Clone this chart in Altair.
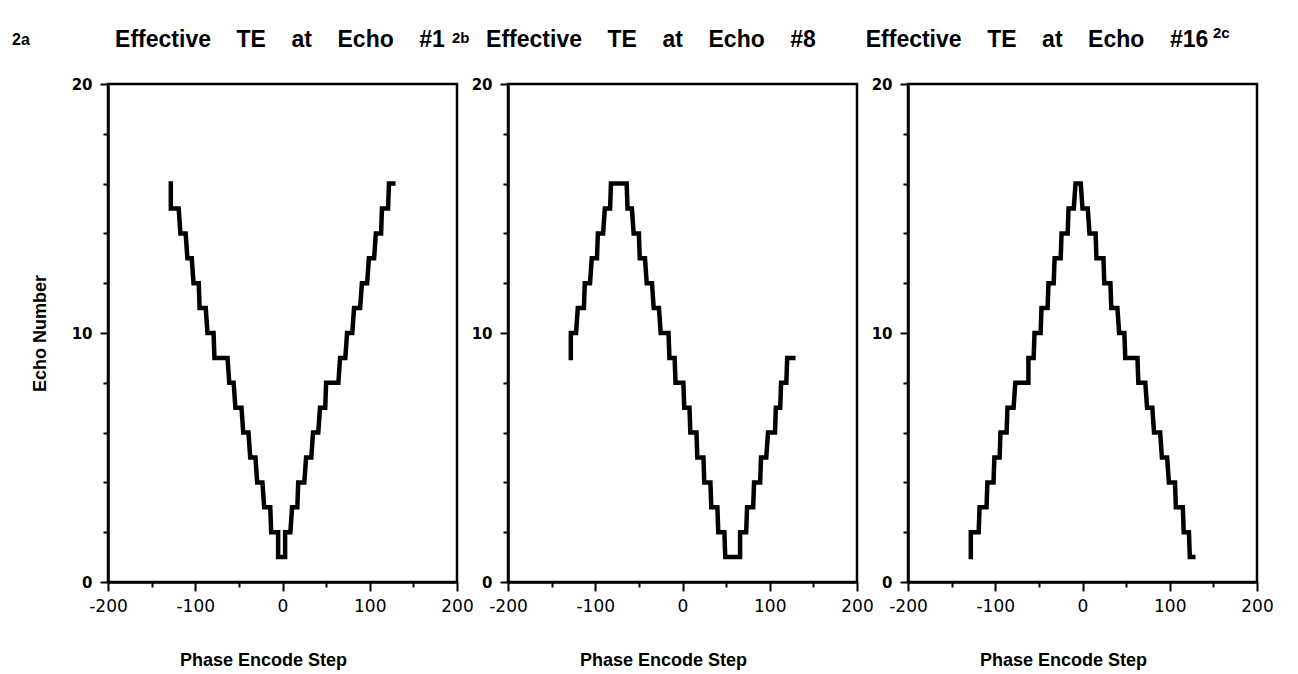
import altair as alt
import pandas as pd

FONT = "Liberation Sans"
NUM_FONT = "DejaVu Sans"

# Panel a: Effective TE at Echo #1  (echo level, start / end of each plateau)
a_echo  = [16, 15, 14, 13, 12, 11, 10, 9, 8, 7, 6, 5, 4, 3, 2, 1,
           2, 3, 4, 5, 6, 7, 8, 9, 10, 11, 12, 13, 14, 15, 16]
a_start = [-128, -128, -117, -109, -102, -95, -86, -78, -61, -54, -45, -37, -29, -21, -13, -5,
           3, 11, 18, 27, 35, 43, 50, 66, 74, 82, 91, 99, 107, 114, 122]
a_end   = [-128, -119, -111, -104, -96, -88, -79, -63, -56, -47, -39, -31, -23, -14, -5, 3,
           9, 17, 25, 33, 41, 49, 64, 72, 80, 89, 97, 105, 113, 121, 127]

# Panel b: Effective TE at Echo #8
b_echo  = [9, 10, 11, 12, 13, 14, 15, 16,
           15, 14, 13, 12, 11, 10, 9, 8, 7, 6, 5, 4, 3, 2, 1,
           2, 3, 4, 5, 6, 7, 8, 9]
b_start = [-128, -128, -120, -112, -104, -97, -89, -82,
           -63, -56, -49, -41, -33, -25, -15, -8, 2, 9, 17, 25, 33, 41, 49,
           66, 74, 82, 90, 98, 107, 113, 120]
b_end   = [-128, -122, -113, -106, -98, -91, -83, -64,
           -58, -50, -43, -35, -27, -16, -9, 1, 8, 16, 24, 32, 40, 48, 66,
           73, 81, 89, 96, 106, 112, 119, 127]

# Panel c: Effective TE at Echo #16
c_echo  = [1, 2, 3, 4, 5, 6, 7, 8, 9, 10, 11, 12, 13, 14, 15, 16,
           15, 14, 13, 12, 11, 10, 9, 8, 7, 6, 5, 4, 3, 2, 1]
c_start = [-128, -128, -118, -109, -101, -94, -86, -77, -62, -55, -47, -39, -32, -24, -16, -8,
           0, 8, 16, 25, 33, 42, 49, 64, 74, 82, 91, 99, 107, 116, 123]
c_end   = [-128, -119, -110, -102, -95, -87, -79, -62, -56, -48, -40, -33, -25, -17, -10, -2,
           6, 15, 24, 32, 40, 48, 63, 72, 80, 89, 97, 106, 115, 122, 127]

G = "\u00a0\u00a0\u00a0\u00a0"
titles = ["Effective" + G + "TE" + G + "at" + G + "Echo" + G + "#1",
          "Effective" + G + "TE" + G + "at" + G + "Echo" + G + "#8",
          "Effective" + G + "TE" + G + "at" + G + "Echo" + G + "#16"]
panel_labels = ["2a", "2b", "2c"]
x_major = [-200, -100, 0, 100, 200]
x_minor = [-150, -50, 50, 150]
y_major = [0, 10, 20]
y_minor = [2, 4, 6, 8, 12, 14, 16, 18]

W, H = 349, 498


def vertices(echo, start, end):
    rows = []
    for i, (e, s, t) in enumerate(zip(echo, start, end)):
        rows.append({"order": 2 * i, "x": s, "y": e})
        rows.append({"order": 2 * i + 1, "x": t, "y": e})
    return pd.DataFrame(rows)


XS = alt.Scale(domain=[-200, 200], nice=False, zero=False)
YS = alt.Scale(domain=[0, 20], nice=False)


def x_axis_major():
    return alt.Axis(
        orient="bottom", values=x_major, labelExpr="toString(datum.value)",
        grid=False, domainColor="black", domainWidth=2.5,
        tickColor="black", tickWidth=2, tickSize=9,
        labelFont=NUM_FONT, labelFontSize=17, labelColor="black", labelPadding=7,
        labelFlush=False, labelOverlap=False,
        title="Phase\u00a0Encode\u00a0Step", titleFont=FONT, titleFontSize=18,
        titleFontWeight="bold", titleColor="black",
        titleX=155, titleY=78, titleAlign="center", titleBaseline="middle",
    )


def x_axis_minor():
    return alt.Axis(
        orient="bottom", values=x_minor, grid=False, domain=False, labels=False,
        tickColor="black", tickWidth=2, tickSize=5, title="",
    )


def y_axis_major(title):
    return alt.Axis(
        orient="left", values=y_major, labelExpr="toString(datum.value)",
        grid=False, domainColor="black", domainWidth=2.5,
        tickColor="black", tickWidth=2, tickSize=8,
        labelFont=NUM_FONT, labelFontSize=15, labelFontWeight="bold", labelColor="black",
        labelPadding=8, labelFlush=False, labelOverlap=False,
        title=title, titleFont=FONT, titleFontSize=18, titleFontWeight="bold",
        titleColor="black", titleX=-68, titleY=H / 2, titleAlign="center",
        titleBaseline="middle",
    )


def y_axis_minor():
    return alt.Axis(
        orient="left", values=y_minor, grid=False, domain=False, labels=False,
        tickColor="black", tickWidth=2, tickSize=5, title="",
    )


def panel(df, title, title_x, label, label_x, label_y, label_size, ytitle):
    line = alt.Chart(df).mark_line(
        color="black", strokeWidth=4.5, strokeJoin="miter", strokeCap="square"
    ).encode(
        x=alt.X("x:Q", scale=XS, axis=x_axis_major()),
        y=alt.Y("y:Q", scale=YS, axis=y_axis_major(ytitle)),
        order="order:Q",
    )
    minor = alt.Chart(df).mark_line(opacity=0).encode(
        x=alt.X("x:Q", scale=XS, axis=x_axis_minor()),
        y=alt.Y("y:Q", scale=YS, axis=y_axis_minor()),
        order="order:Q",
    )
    t = alt.Chart(pd.DataFrame({"t": [title]})).mark_text(
        font=FONT, fontSize=23, fontWeight="bold", align="center", baseline="middle", color="black"
    ).encode(text="t:N", x=alt.value(title_x), y=alt.value(-44))
    lab = alt.Chart(pd.DataFrame({"t": [label]})).mark_text(
        font=FONT, fontSize=label_size, fontWeight="bold", align="left", baseline="middle", color="black"
    ).encode(text="t:N", x=alt.value(label_x), y=alt.value(label_y))
    return alt.layer(line, minor, t, lab).resolve_axis(
        x="independent", y="independent"
    ).properties(width=W, height=H)


pa = panel(vertices(a_echo, a_start, a_end), titles[0], 172, panel_labels[0], -96, -44, 16, "Echo\u00a0Number")
pb = panel(vertices(b_echo, b_start, b_end), titles[1], 143, panel_labels[1], -56, -46, 15, "")
pc = panel(vertices(c_echo, c_start, c_end), titles[2], 129, panel_labels[2], 305, -51, 15, "")

chart = alt.hconcat(pa, pb, pc, spacing=51, bounds="flush").properties(
    padding={"left": 2, "top": 16, "right": 5, "bottom": 5},
    background="white",
).configure_view(stroke="black", strokeWidth=2.5)

chart.save("out.html", embed_options={"renderer": "svg", "actions": False})
